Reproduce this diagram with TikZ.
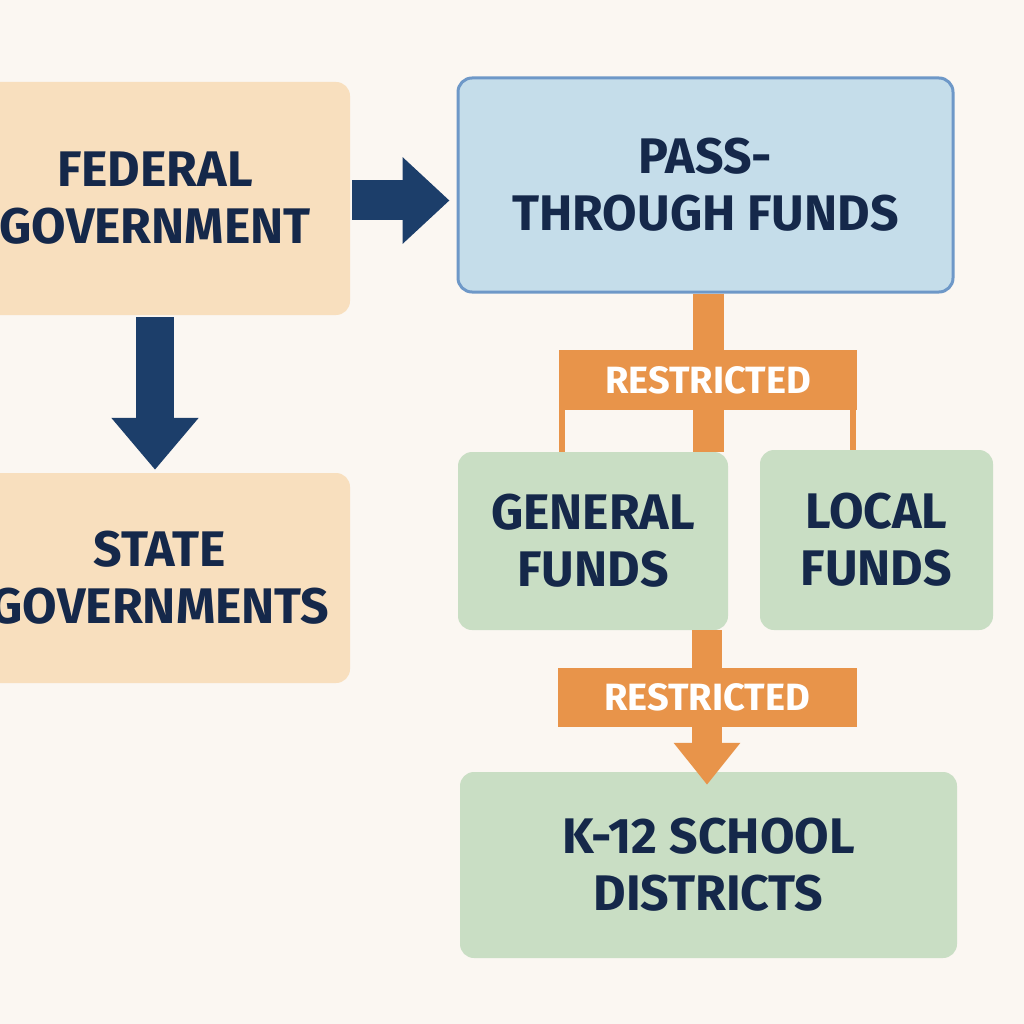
\documentclass[tikz,border=0pt]{standalone}
\usepackage{fontspec}
\setmainfont{Fira Sans}
\usetikzlibrary{arrows.meta,calc}
\definecolor{bg}{RGB}{251,247,242}
\definecolor{peach}{RGB}{248,223,190}
\definecolor{skyfill}{RGB}{197,221,234}
\definecolor{skyline}{RGB}{110,152,200}
\definecolor{mint}{RGB}{201,222,196}
\definecolor{navyarrow}{RGB}{28,62,106}
\definecolor{navytext}{RGB}{21,40,74}
\definecolor{ochre}{RGB}{232,148,74}
\tikzset{
  boxbase/.style={rectangle, rounded corners=14pt, align=center, text=navytext,
    font=\fontsize{50}{57}\selectfont\bfseries, inner sep=0pt},
  peachbox/.style={boxbase, fill=peach},
  skybox/.style={boxbase, fill=skyfill, draw=skyline, line width=3pt},
  mintbox/.style={boxbase, fill=mint},
  band/.style={rectangle, fill=ochre, text=white, inner sep=0pt,
    font=\fontsize{38}{40}\selectfont\bfseries},
  navyarr/.style={draw=navyarrow, line width=40pt},
  bar/.style={draw=ochre, line width=31pt},
  leg/.style={draw=ochre, line width=6pt}
}
\begin{document}
\begin{tikzpicture}[x=1pt,y=-1pt]
\useasboundingbox (0,0) rectangle (1024,1024);
\fill[bg] (0,0) rectangle (1024,1024);
% boxes
\node[peachbox, minimum width=390pt, minimum height=233pt] (fed) at (155,198.5) {FEDERAL\\GOVERNMENT};
\node[peachbox, minimum width=380pt, minimum height=210pt] (state) at (160,578) {STATE\\GOVERNMENTS};
\node[skybox, minimum width=495pt, minimum height=214pt] (pass) at (705.5,185) {PASS-\\THROUGH FUNDS};
\node[mintbox, minimum width=270pt, minimum height=178pt] (gen) at (593,541) {GENERAL\\FUNDS};
\node[mintbox, minimum width=233pt, minimum height=180pt] (loc) at (876.5,540) {LOCAL\\FUNDS};
\node[mintbox, minimum width=497pt, minimum height=186pt] (k12) at (708.5,865) {K-12 SCHOOL\\DISTRICTS};
% navy arrows
\draw[navyarr, -{Triangle[width=84pt,length=47pt]}] ($(fed.east)+(2,2)$) -- ($(fed.east -| pass.west)+(-7,2)$);
\draw[navyarr, line width=38pt, -{Triangle[width=84pt,length=52pt]}] ($(fed.south)+(0,2)$) -- ($(state.north -| fed.south)+(0,-3)$);
% first restricted connector
\coordinate (c1) at (708,380);
\draw[bar] (c1 |- pass.south) -- (c1 |- gen.north);
\node[band, minimum width=298pt, minimum height=60pt] (r1) at (c1) {RESTRICTED};
\coordinate (l1) at ($(r1.south west)+(3.5,-1)$);
\coordinate (l2) at ($(r1.south east)+(-4,-1)$);
\draw[leg] (l1) -- (l1 |- gen.north);
\draw[leg] (l2) -- (l2 |- loc.north);
% second restricted connector
\coordinate (c2) at (707,697);
\draw[bar, line width=30pt, -{Triangle[width=64pt,length=42pt]}] (c2 |- gen.south) -- ($(c2 |- k12.north)+(0,13)$);
\node[band, minimum width=299pt, minimum height=59pt] (r2) at (c2) {RESTRICTED};
\end{tikzpicture}
\end{document}
